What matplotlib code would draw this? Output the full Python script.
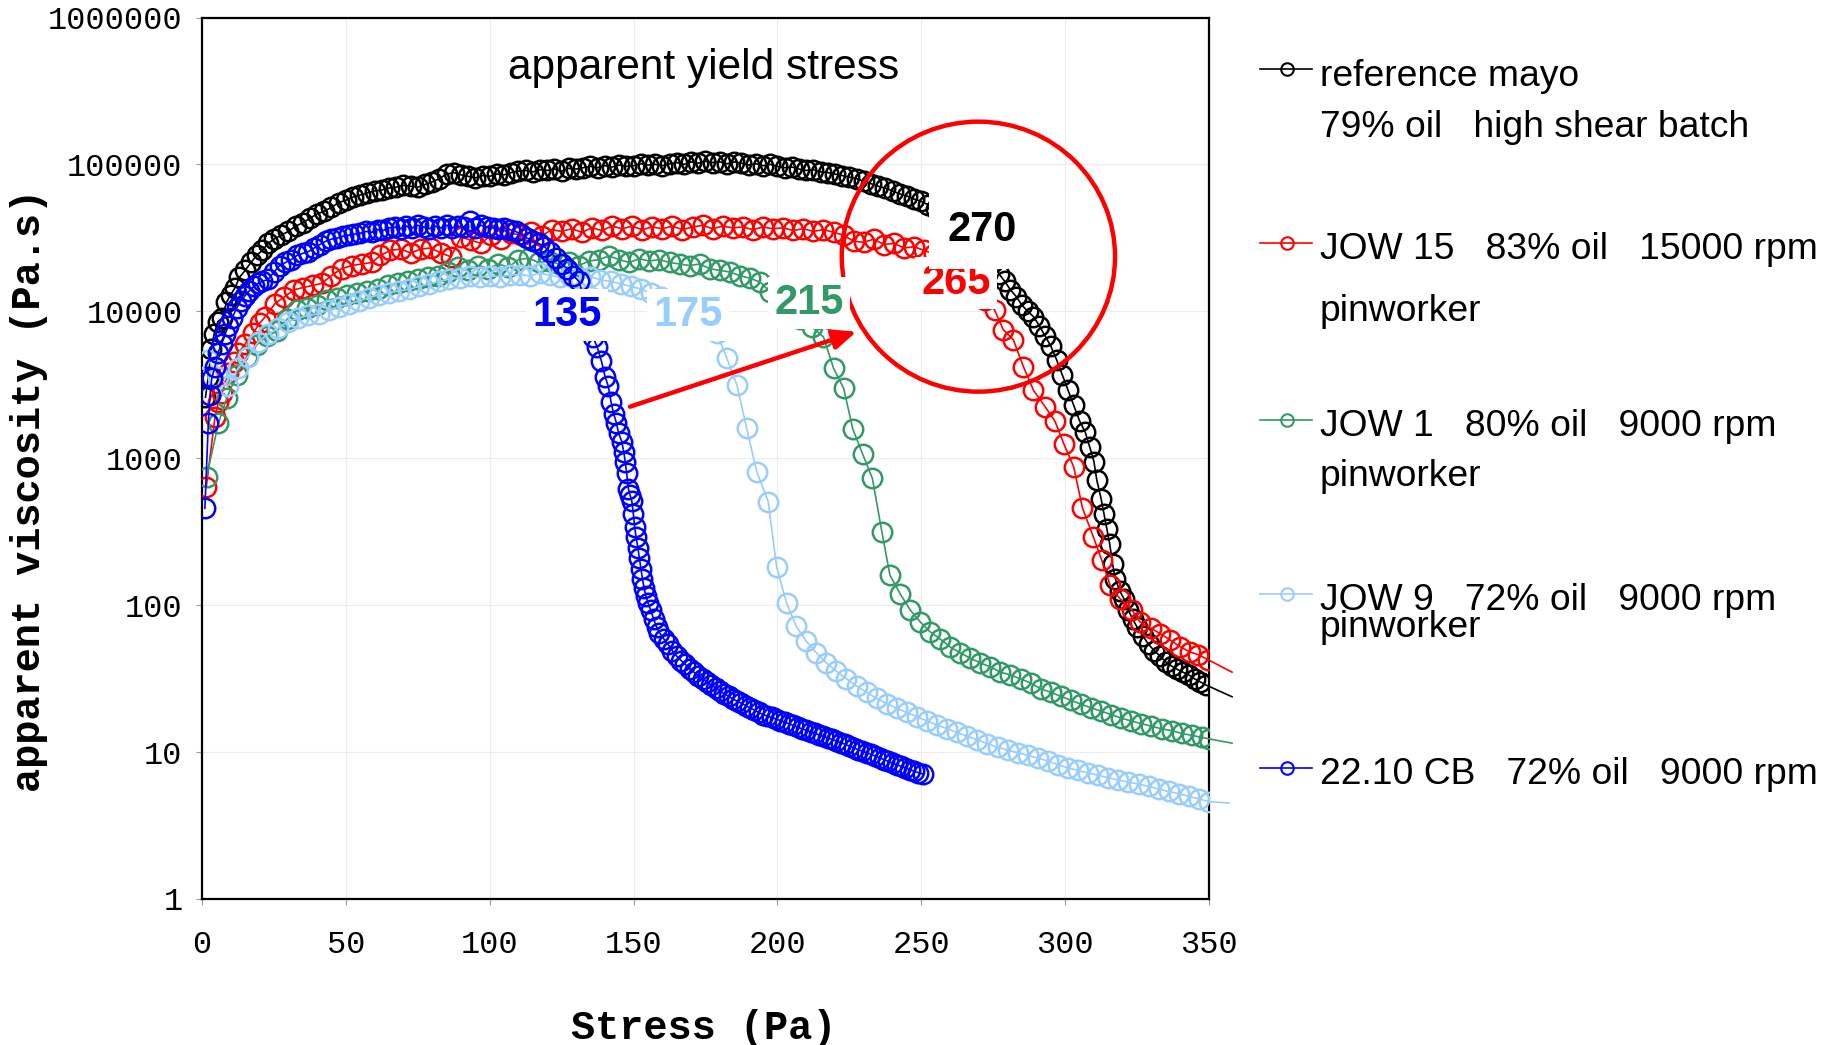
import matplotlib
matplotlib.use("Agg")
import matplotlib.pyplot as plt
from matplotlib.lines import Line2D
from matplotlib.patches import Ellipse
from matplotlib.ticker import FixedLocator, NullLocator

# stress ramp data: stress (Pa) vs apparent viscosity (Pa.s)
black_stress = [1.2, 2.2, 3.2, 4.2, 5.5, 7.0, 8.5, 10.0, 11.5, 13.0,
                15.0, 17.0, 19.0, 21.0, 23.0, 25.0, 27.5, 30.0, 32.5, 35.0,
                37.5, 40.0, 42.5, 45.0, 47.5, 50.0, 52.5, 55.0, 57.5, 60.0,
                62.5, 65.0, 67.5, 70.0, 72.5, 75.0, 77.5, 80.0, 82.5, 85.0,
                87.5, 90.0, 92.5, 95.0, 97.5, 100.0, 102.5, 105.0, 107.5, 110.0,
                112.5, 115.0, 117.5, 120.0, 122.5, 125.0, 127.5, 130.0, 132.5, 135.0,
                137.5, 140.0, 142.5, 145.0, 147.5, 150.0, 152.5, 155.0, 157.5, 160.0,
                162.5, 165.0, 167.5, 170.0, 172.5, 175.0, 177.5, 180.0, 182.5, 185.0,
                187.5, 190.0, 192.5, 195.0, 197.5, 200.0, 202.5, 205.0, 207.5, 210.0,
                212.5, 215.0, 217.5, 220.0, 222.5, 225.0, 227.5, 230.0, 232.5, 235.0,
                237.5, 240.0, 242.5, 245.0, 247.5, 250.0, 252.5, 255.0, 257.5, 260.0,
                262.5, 265.0, 267.5, 270.0, 272.5, 275.0, 277.0, 279.0, 281.0, 283.0,
                285.0, 287.0, 289.0, 291.0, 293.0, 295.0, 297.0, 299.0, 301.0, 303.0,
                305.0, 307.0, 308.5, 310.0, 311.0, 312.5, 313.5, 314.5, 315.5, 316.5,
                317.5, 319.0, 320.5, 322.0, 323.5, 325.0, 327.0, 329.0, 331.0, 333.0,
                335.0, 337.0, 339.0, 341.0, 343.0, 345.0, 347.0, 349.0, 358.0]
black_visc = [2600, 3600, 5500, 7000, 8500, 9000, 11500, 13000, 14500, 17000,
              19000, 21500, 24000, 26000, 29000, 31000, 33000, 35000, 38000, 40000,
              43000, 46000, 48000, 51000, 55000, 57000, 60000, 62000, 64000, 66000,
              67000, 69000, 70000, 72000, 71000, 70000, 73000, 76000, 80000, 86000,
              88000, 85000, 83000, 81000, 84000, 83000, 86000, 85000, 88000, 90000,
              91000, 89000, 92000, 91000, 93000, 90000, 94000, 93000, 95000, 97000,
              95000, 98000, 96000, 99000, 97000, 98000, 101000, 99000, 100000, 98000,
              101000, 103000, 100000, 104000, 102000, 105000, 103000, 104000, 101000, 104000,
              102000, 99000, 101000, 98000, 100000, 97000, 95000, 96000, 93000, 91000,
              92000, 89000, 88000, 86000, 84000, 82000, 80000, 77000, 74000, 71000,
              69000, 66000, 63000, 61000, 58000, 56000, 53000, 50000, 46000, 42000,
              38000, 34000, 30000, 27000, 24000, 21500, 18000, 16000, 14000, 12600,
              11000, 10000, 9200, 8000, 6800, 5800, 4700, 3700, 2900, 2300,
              1800, 1500, 1200, 950, 711, 530, 420, 330, 260, 190,
              150, 125, 110, 92, 80, 71, 62, 54, 49, 45,
              41, 38.5, 36.5, 35, 33.5, 31.5, 30, 28.6, 23.8]

red_stress = [1.5, 4.5, 5.7, 7.0, 9.2, 11.0, 12.6, 15.0, 17.8, 20.0,
              22.0, 25.4, 28.5, 32.0, 35.0, 38.5, 41.6, 45.0, 48.5, 52.0,
              55.5, 59.0, 62.0, 65.5, 69.0, 72.5, 76.0, 79.5, 83.0, 86.5,
              90.0, 93.5, 97.0, 100.5, 104.0, 107.5, 111.0, 114.5, 118.0, 121.5,
              125.0, 128.5, 132.0, 135.5, 139.0, 142.5, 146.0, 149.5, 153.0, 156.5,
              160.0, 163.5, 167.0, 170.5, 174.0, 177.5, 181.0, 184.5, 188.0, 191.5,
              195.0, 198.5, 202.0, 205.5, 209.0, 212.5, 216.0, 219.5, 223.0, 226.5,
              230.0, 233.5, 237.0, 240.5, 244.0, 247.5, 251.0, 254.5, 258.0, 261.5,
              265.0, 268.5, 272.0, 275.5, 278.5, 282.0, 285.5, 289.0, 293.0, 296.5,
              299.5, 303.0, 306.0, 309.8, 312.7, 315.6, 319.0, 323.2, 326.0, 330.0,
              333.0, 336.5, 340.0, 343.4, 346.3, 349.8, 358.0]
red_visc = [640, 1900, 2400, 2800, 3800, 4500, 5200, 6000, 7100, 8300,
            9200, 11300, 12500, 14000, 14500, 15000, 15500, 17500, 19500, 20500,
            21000, 21500, 24000, 26000, 26500, 25000, 26500, 27000, 25000, 23500,
            32000, 30500, 29000, 33000, 31000, 34000, 33000, 34500, 32500, 36000,
            35000, 36500, 34500, 37000, 35500, 38000, 36500, 38000, 36000, 37500,
            36500, 38000, 36000, 37500, 38500, 36500, 38000, 37000, 37500, 36000,
            37500, 36500, 37000, 35500, 36500, 35000, 36000, 34500, 33000, 30000,
            29500, 31000, 28500, 29000, 27000, 27500, 26000, 24500, 22500, 20000,
            17500, 14500, 12000, 10200, 7500, 6400, 4200, 2900, 2250, 1780,
            1260, 870, 460, 292, 203, 137, 111, 93, 77, 69.5,
            64, 58, 52, 48, 46, 42.4, 35]

green_stress = [1.6, 5.7, 8.6, 12.0, 15.5, 19.0, 22.5, 26.0, 29.5, 33.0,
                36.5, 40.0, 43.5, 47.0, 50.5, 54.0, 57.5, 61.0, 64.5, 68.0,
                71.5, 75.0, 78.5, 82.0, 85.5, 89.0, 92.5, 96.0, 99.5, 103.0,
                106.5, 110.0, 113.5, 117.0, 120.5, 124.0, 127.5, 131.0, 134.5, 138.0,
                141.5, 145.0, 148.5, 152.0, 155.5, 159.0, 162.5, 166.0, 169.5, 173.0,
                176.5, 180.0, 183.5, 187.0, 190.5, 194.0, 197.5, 201.0, 204.5, 208.0,
                212.0, 216.0, 219.5, 223.0, 226.2, 229.6, 233.0, 236.3, 239.1, 242.6,
                246.1, 249.6, 253.0, 256.5, 260.0, 263.5, 267.0, 270.5, 274.0, 277.5,
                281.0, 284.5, 288.0, 291.5, 295.0, 298.5, 302.0, 305.5, 309.0, 312.5,
                316.0, 319.5, 323.0, 326.5, 330.0, 333.5, 337.0, 340.5, 344.0, 347.5,
                350.0, 358.0]
green_visc = [750, 1730, 2560, 3690, 4900, 5900, 6800, 7300, 8800, 10200,
              10500, 11000, 11900, 12300, 12900, 13300, 13800, 14200, 15000, 15600,
              16000, 16700, 17200, 17500, 18500, 20000, 19000, 20500, 19500, 21000,
              20000, 22500, 23000, 21500, 22000, 21000, 21500, 20500, 22000, 22500,
              23800, 22500, 21500, 22800, 22000, 22500, 21500, 21000, 20500, 21000,
              19500, 19000, 18500, 17500, 16800, 15800, 13500, 12000, 10500, 8800,
              7800, 6700, 4100, 3000, 1580, 1070, 730, 316, 160, 120,
              93, 77, 66, 59, 52, 47.5, 43.5, 40.5, 38, 35,
              33.5, 31.5, 29.5, 27, 25.5, 24, 22.5, 21.2, 20, 19,
              18, 17, 16.3, 15.6, 15, 14.4, 14, 13.4, 13, 12.6,
              12.3, 11.5]

lightblue_stress = [2.2, 5.5, 9.0, 12.5, 16.0, 19.5, 23.0, 26.5, 30.0, 33.5,
                    37.0, 40.5, 44.0, 47.5, 51.0, 54.5, 58.0, 61.5, 65.0, 68.5,
                    72.0, 75.5, 79.0, 82.5, 86.0, 89.5, 93.0, 96.5, 100.0, 103.5,
                    107.0, 110.5, 114.0, 117.5, 121.0, 124.5, 128.0, 131.5, 135.0, 138.5,
                    142.0, 145.5, 149.0, 152.5, 156.0, 159.5, 163.0, 166.5, 170.0, 173.5,
                    176.0, 178.9, 182.4, 185.9, 189.3, 192.8, 196.8, 199.7, 203.2, 206.5,
                    210.0, 213.5, 217.0, 220.5, 224.0, 227.5, 231.0, 234.5, 238.0, 241.5,
                    245.0, 248.5, 252.0, 255.5, 259.0, 262.5, 266.0, 269.5, 273.0, 276.5,
                    280.0, 283.5, 287.0, 290.5, 294.0, 297.5, 301.0, 304.5, 308.0, 311.5,
                    315.0, 318.5, 322.0, 325.5, 329.0, 332.5, 336.0, 339.5, 343.0, 346.5,
                    350.0, 357.0]
lightblue_visc = [4700, 3600, 3100, 4100, 4900, 6200, 7000, 7700, 8500, 9000,
                  9400, 9600, 10200, 10700, 11200, 11800, 12400, 13000, 13400, 13800,
                  14100, 14800, 15400, 16000, 16600, 16900, 17300, 17000, 17500, 17200,
                  17600, 17800, 17400, 18200, 17600, 17000, 17400, 16800, 17200, 16400,
                  16000, 15400, 14800, 14200, 13300, 12500, 11500, 10500, 9800, 8800,
                  8000, 7100, 4800, 3160, 1600, 810, 507, 183, 103, 72,
                  57, 47.5, 40.5, 35.5, 31.5, 28.2, 25.5, 23.2, 21.4, 19.8,
                  18.6, 17.4, 16.3, 15.3, 14.4, 13.6, 12.8, 12.1, 11.4, 10.8,
                  10.3, 9.9, 9.5, 9.1, 8.7, 8.2, 7.8, 7.5, 7.2, 6.95,
                  6.7, 6.45, 6.25, 6.05, 5.85, 5.6, 5.4, 5.2, 5.0, 4.8,
                  4.6, 4.5]

blue_stress = [1.0, 2.2, 2.8, 3.4, 4.5, 5.5, 6.8, 8.0, 9.2, 10.5,
               12.0, 13.5, 15.0, 16.5, 18.0, 19.5, 21.0, 23.0, 25.0, 27.0,
               29.0, 31.0, 33.0, 35.0, 37.0, 39.0, 41.0, 43.0, 45.0, 47.0,
               49.0, 51.0, 53.0, 55.0, 57.0, 59.0, 61.0, 63.0, 65.0, 67.0,
               69.0, 71.0, 73.0, 75.0, 77.0, 79.0, 81.0, 83.0, 85.0, 87.0,
               89.0, 91.0, 93.0, 95.0, 97.0, 99.0, 101.0, 103.0, 105.0, 107.0,
               109.0, 111.0, 113.0, 115.0, 117.0, 119.0, 121.0, 123.0, 125.0, 127.0,
               129.0, 131.0, 133.0, 134.5, 135.8, 137.4, 138.8, 140.1, 141.2, 142.2,
               143.1, 144.0, 144.8, 145.9, 146.6, 147.1, 147.6, 148.2, 148.8, 149.4,
               149.9, 150.4, 150.9, 151.5, 152.0, 152.6, 153.1, 153.7, 154.3, 155.0,
               156.0, 157.0, 158.0, 159.0, 160.5, 162.0, 163.5, 165.0, 166.5, 168.0,
               169.5, 171.0, 172.5, 174.0, 175.5, 177.0, 178.5, 180.0, 181.5, 183.0,
               184.5, 186.0, 187.5, 189.0, 190.5, 192.0, 193.5, 195.0, 196.5, 198.0,
               199.5, 201.0, 202.5, 204.0, 205.5, 207.0, 208.5, 210.0, 211.5, 213.0,
               214.5, 216.0, 217.5, 219.0, 220.5, 222.0, 223.5, 225.0, 226.5, 228.0,
               229.5, 231.0, 232.5, 234.0, 235.5, 237.0, 238.5, 240.0, 241.5, 243.0,
               244.5, 246.0, 247.5, 249.0, 250.5]
blue_visc = [456, 1730, 2700, 3500, 4200, 5200, 6000, 7000, 7900, 9000,
             10500, 11800, 12800, 13800, 14800, 15500, 16000, 16500, 18500, 20500,
             21500, 22500, 24000, 24800, 25500, 27000, 28500, 30000, 31000, 31500,
             32500, 33000, 33500, 34000, 35000, 34500, 36000, 35500, 37000, 37500,
             36500, 38000, 37000, 38500, 37500, 36500, 38000, 37000, 38500, 37000,
             38000, 37500, 41500, 37000, 38500, 37500, 37000, 36500, 37000, 36000,
             35000, 33500, 31500, 30000, 29000, 27500, 25500, 23000, 21000, 19500,
             17500, 16000, 12000, 8500, 6700, 5700, 4600, 3600, 3100, 2400,
             2000, 1750, 1480, 1300, 1100, 950, 790, 620, 560, 510,
             420, 340, 290, 245, 210, 175, 150, 130, 115, 104,
             92, 80, 71, 65, 59, 54, 49, 45, 42, 39.5,
             37, 35, 33, 31.5, 30, 28.5, 27.5, 26, 25, 24,
             23, 22.2, 21.5, 20.7, 20, 19.3, 18.6, 18, 17.6, 17.2,
             16.8, 16.4, 16, 15.6, 15.2, 14.8, 14.4, 14.1, 13.7, 13.4,
             13.1, 12.8, 12.5, 12.2, 11.9, 11.6, 11.3, 11.0, 10.7, 10.4,
             10.15, 9.9, 9.65, 9.4, 9.15, 8.9, 8.65, 8.4, 8.2, 8.0,
             7.8, 7.6, 7.4, 7.25, 7.1]

# legend text, one list of lines per sample
legend_lines = [
    ["reference mayo", "79% oil   high shear batch"],
    ["JOW 15   83% oil   15000 rpm", "pinworker"],
    ["JOW 1   80% oil   9000 rpm", "pinworker"],
    ["JOW 9   72% oil   9000 rpm", "pinworker"],
    ["22.10 CB   72% oil   9000 rpm"],
]
series_colors = ["black", "#ff0000", "#339966", "#99ccff", "#0000ff"]

# yield stress callouts: label, stress, viscosity
callout_text = ["135", "175", "215", "265", "270"]
callout_stress = [126.8, 169.0, 211.0, 262.1, 271.3]
callout_visc = [9440, 9440, 11400, 15600, 35800]
callout_colors = ["#0000ff", "#99ccff", "#339966", "#ff0000", "black"]

x_ticks = [0, 50, 100, 150, 200, 250, 300, 350]
y_ticks = [1, 10, 100, 1000, 10000, 100000, 1000000]
y_tick_labels = ["1", "10", "100", "1000", "10000", "100000", "1000000"]

W, H = 1831, 1045
XMAX = 350


def fx(px):
    return px / W


def fy(py):
    return 1 - py / H


fig = plt.figure(figsize=(W / 100, H / 100), dpi=100)
ax = fig.add_axes([fx(202), fy(899), fx(1007), 881.5 / H])

series = [
    (black_stress, black_visc),
    (red_stress, red_visc),
    (green_stress, green_visc),
    (lightblue_stress, lightblue_visc),
    (blue_stress, blue_visc),
]
for i, ((xs, ys), c) in enumerate(zip(series, series_colors)):
    # connecting line runs a little past the right spine, markers stop at 350
    ax.plot(xs, ys, color=c, lw=1.2, clip_on=False, zorder=3 + i)
    mx = [a for a in xs if a <= XMAX]
    my = [b for a, b in zip(xs, ys) if a <= XMAX]
    ax.plot(mx, my, ls="none", marker="o", ms=14, mfc="none", mec=c,
            mew=1.8, zorder=3 + i)

ax.set_xlim(0, XMAX)
ax.set_yscale("log")
ax.set_ylim(1, 1e6)
ax.xaxis.set_major_locator(FixedLocator(x_ticks))
ax.yaxis.set_major_locator(FixedLocator(y_ticks))
ax.yaxis.set_minor_locator(NullLocator())
ax.set_xticklabels([str(t) for t in x_ticks])
ax.set_yticklabels(y_tick_labels)
ax.grid(True, color="#ececec", lw=0.8, zorder=0)
ax.set_axisbelow(True)
for s in ax.spines.values():
    s.set_linewidth(1.6)
    s.set_color("black")
ax.tick_params(axis="both", direction="out", length=4, width=0.8, color="#999999")
ax.tick_params(axis="y", pad=10)
ax.tick_params(axis="x", pad=18)
for lab in ax.get_xticklabels() + ax.get_yticklabels():
    lab.set_fontfamily("Liberation Mono")
    lab.set_fontsize(23)

ax.text(0.4985, 0.930, "apparent yield stress", transform=ax.transAxes,
        ha="center", va="baseline", fontsize=30.5, family="Liberation Sans")

# red circle around the reference / JOW 15 yield region, arrow from the others
ax.add_patch(Ellipse((0.771, 0.7287), 0.2714, 0.3063, transform=ax.transAxes,
                     fill=False, ec="#ff0000", lw=3.2, zorder=9))
ax.annotate("", xy=(0.650, 0.6436), xytext=(0.425, 0.5585),
            xycoords="axes fraction", textcoords="axes fraction",
            arrowprops=dict(arrowstyle="-|>,head_length=0.7,head_width=0.3",
                            color="#ff0000", lw=3.2, shrinkA=0, shrinkB=0,
                            mutation_scale=20),
            zorder=9)

for t, x, y, c in zip(callout_text, callout_stress, callout_visc, callout_colors):
    pad = 0.45 if t == "270" else 0.15
    ax.text(x, y, t, color=c, fontsize=30, fontweight="bold",
            family="Liberation Sans", ha="center", va="center", zorder=12,
            bbox=dict(boxstyle=f"square,pad={pad}", fc="white", ec="none"))

fig.text(fx(29), fy(490), "apparent viscosity (Pa.s)", rotation=90,
         ha="center", va="center", fontsize=29, fontweight="bold",
         family="Liberation Mono")
fig.text(fx(704), fy(1039), "Stress (Pa)", ha="center", va="baseline",
         fontsize=29, fontweight="bold", family="Liberation Mono")

# hand-placed legend with uneven row spacing
handle_y = [69.3, 243.3, 420.4, 594.4, 768.3]
text_baselines = [[85.7, 136.7], [259.3, 321.0], [436.4, 485.7], [610.4, 637.4], [784.3]]
for lines, c, hy, bls in zip(legend_lines, series_colors, handle_y, text_baselines):
    fig.add_artist(Line2D([fx(1260), fx(1312)], [fy(hy), fy(hy)], color=c, lw=1.2))
    fig.add_artist(Line2D([fx(1286.5)], [fy(hy)], ls="none", marker="o", ms=9,
                          mfc="none", mec=c, mew=1.5))
    for line, b in zip(lines, bls):
        fig.text(fx(1320), fy(b), line, ha="left", va="baseline", fontsize=26.8,
                 family="Liberation Sans")

fig.savefig("out.png", dpi=100)
